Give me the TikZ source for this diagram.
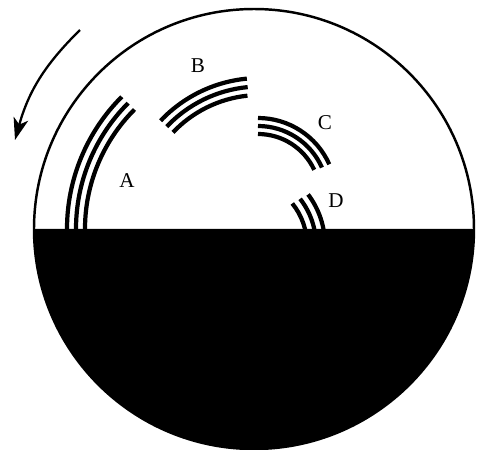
\documentclass[tikz,border=0pt]{standalone}
\usepackage{fontspec}
\setmainfont{Liberation Serif}
\usetikzlibrary{arrows.meta}
\begin{document}
\begin{tikzpicture}[layer/.style={line width=2.4pt},
  lbl/.style={font=\fontsize{12}{14}\selectfont}]
\useasboundingbox (-5.08,-4.42) rectangle (4.46,4.58);
% group A
\draw[layer] (0,0)++(135:3.74) arc[start angle=135, end angle=180, radius=3.74];
\draw[layer] (0,0)++(135:3.56) arc[start angle=135, end angle=180, radius=3.56];
\draw[layer] (0,0)++(135:3.38) arc[start angle=135, end angle=180, radius=3.38];
% group B
\draw[layer] (0.12,0.28)++(95.5:2.74) arc[start angle=95.5, end angle=136.5, radius=2.74];
\draw[layer] (0.12,0.28)++(95.5:2.57) arc[start angle=95.5, end angle=136.5, radius=2.57];
\draw[layer] (0.12,0.28)++(96:2.40) arc[start angle=96, end angle=136.5, radius=2.40];
% group C
\draw[layer] (0.08,0.66)++(24:1.56) arc[start angle=24, end angle=90, radius=1.56];
\draw[layer] (0.08,0.66)++(24:1.40) arc[start angle=24, end angle=90, radius=1.40];
\draw[layer] (0.08,0.66)++(25:1.24) arc[start angle=25, end angle=90, radius=1.24];
% group D
\draw[layer] (-0.26,-0.32)++(0:1.68) arc[start angle=0, end angle=37, radius=1.68];
\draw[layer] (-0.26,-0.32)++(0:1.50) arc[start angle=0, end angle=38, radius=1.50];
\draw[layer] (-0.26,-0.32)++(0:1.32) arc[start angle=0, end angle=39, radius=1.32];
% bed
\fill (-4.4,0) arc[start angle=180, end angle=360, radius=4.4] -- cycle;
\draw[line width=1.4pt] (0,0) circle(4.4);
\node[lbl] (labA) at (-2.54,0.96) {A};
\node[lbl] (labB) at (-1.12,3.26) {B};
\node[lbl] (labC) at (1.42,2.12) {C};
\node[lbl] (labD) at (1.64,0.56) {D};
% rotation
\coordinate (rotstart) at (-3.48,3.98);
\coordinate (rotend) at (-4.78,1.78);
\draw[line width=1.3pt,-{Stealth[length=4.4mm,width=3mm,inset=1.2mm]}] (rotstart) to[bend right=15] (rotend);
\end{tikzpicture}
\end{document}
